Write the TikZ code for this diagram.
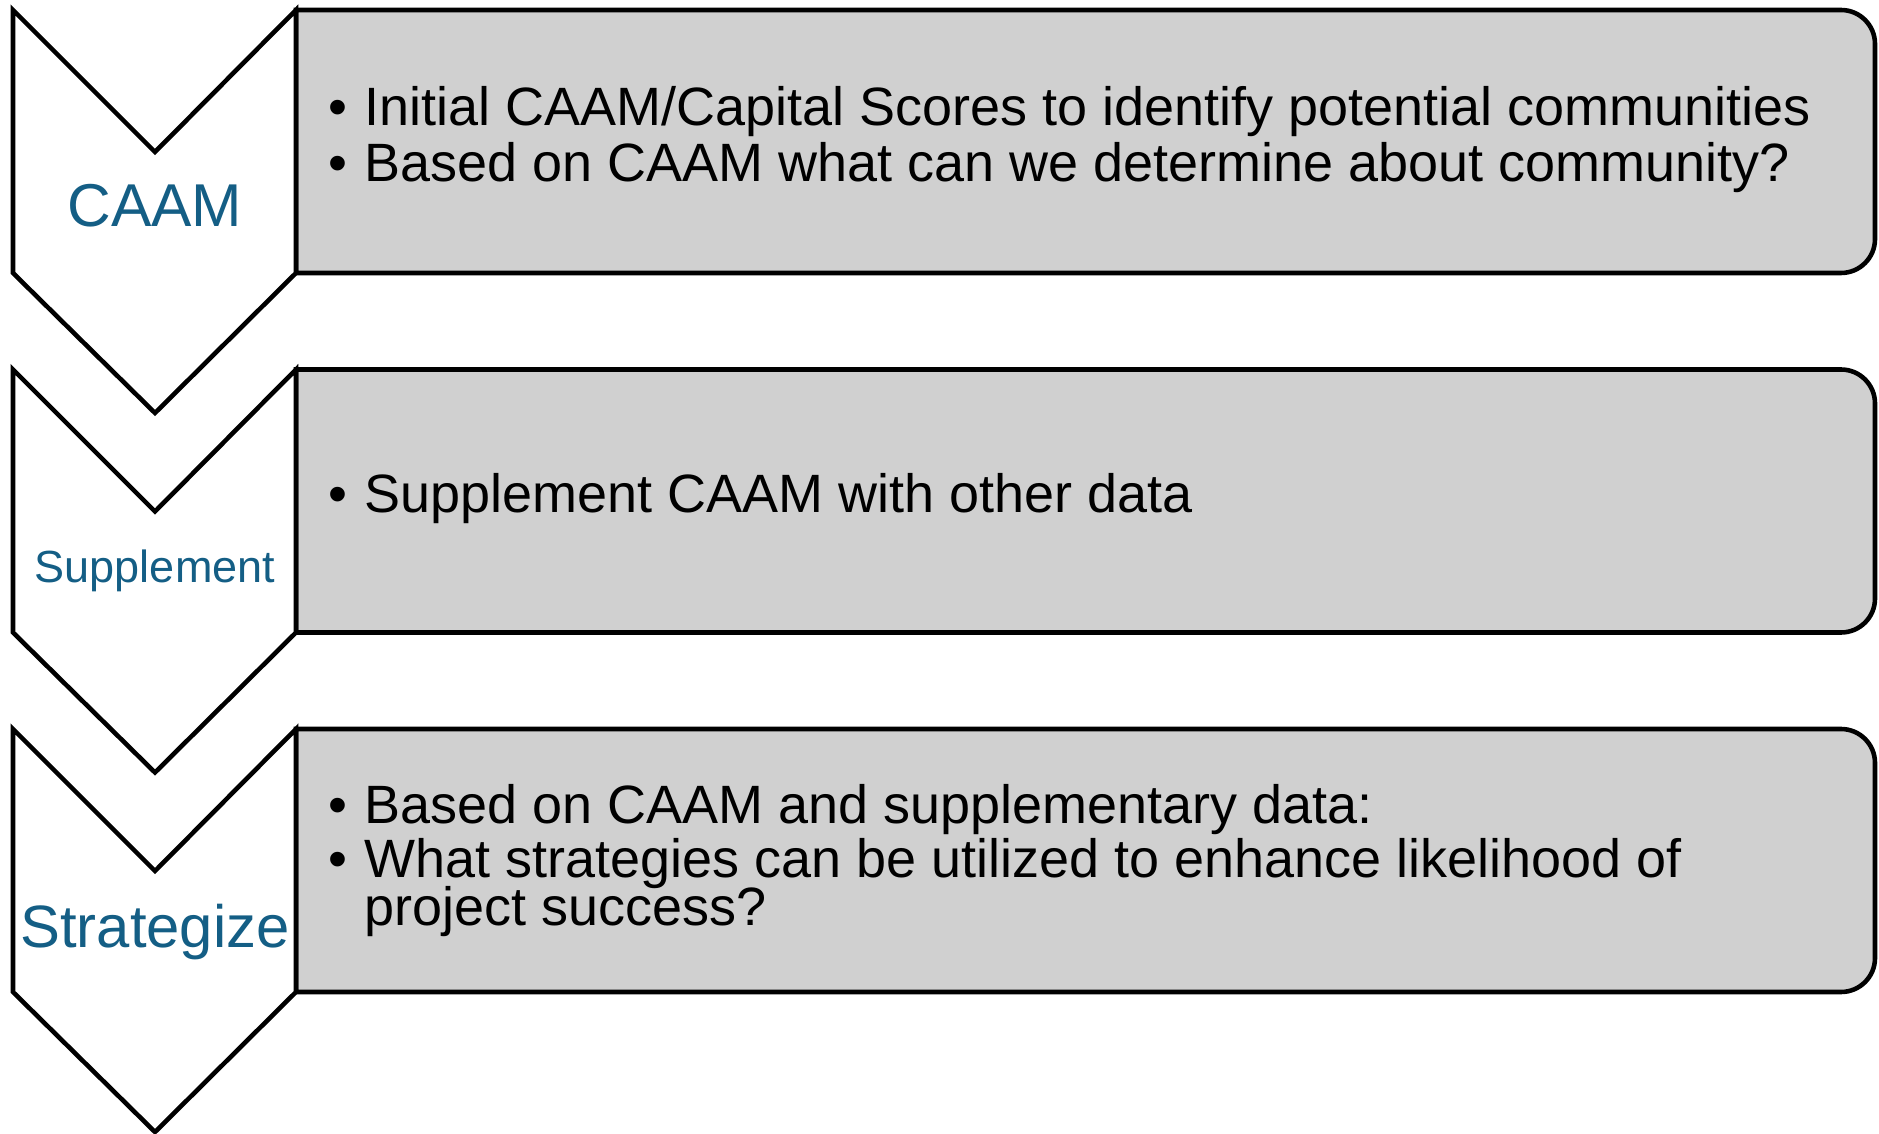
\documentclass[tikz,border=0pt]{standalone}
\usepackage{fontspec}
\setmainfont{Liberation Sans}
\usepackage{tikz}

\definecolor{caamblue}{RGB}{20,94,133}
\definecolor{panelgray}{RGB}{208,208,208}
\lineskiplimit=-20pt
\tikzset{
  chev/.style={draw=black,fill=white,line width=1.3pt},
  panel/.style={draw=black,fill=panelgray,line width=1.3pt},
  steplabel/.style={text=caamblue,inner sep=0pt,anchor=base},
  points/.style={anchor=base west,inner sep=0pt,align=left,
    font=\fontsize{15.35}{13.4}\selectfont}
}
\newcommand{\bul}{\makebox[0.36cm][l]{\textbullet}}

\begin{document}
\begin{tikzpicture}[x=0.01cm,y=-0.01cm]
   \useasboundingbox (0,0) rectangle (1879,1134);

   \draw[panel] (296,140) -- (296,10) [rounded corners=0.34cm] -- (1875,10) -- (1875,273) [sharp corners] -- (296,273) -- cycle;
   \draw[panel] (296,500) -- (296,369.5) [rounded corners=0.34cm] -- (1875,369.5) -- (1875,632.5) [sharp corners] -- (296,632.5) -- cycle;
   \draw[panel] (296,860) -- (296,729) [rounded corners=0.34cm] -- (1875,729) -- (1875,992) [sharp corners] -- (296,992) -- cycle;

   \draw[chev] (13,10) -- (155,152) -- (296,10) -- (296,273) -- (155,413) -- (13,273) -- cycle;
   \draw[chev] (13,369.5) -- (155,511.5) -- (296,369.5) -- (296,632.5) -- (155,772.5) -- (13,632.5) -- cycle;
   \draw[chev] (13,729) -- (155,871) -- (296,729) -- (296,992) -- (155,1132) -- (13,992) -- cycle;

   \node[steplabel,font=\fontsize{17.2}{20}\selectfont] (caam) at (155,227) {CAAM};
   \node[steplabel,font=\fontsize{12.8}{15}\selectfont] (supp) at (155,583) {Supplement};
   \node[steplabel,font=\fontsize{17}{20}\selectfont] (strat) at (155,947) {Strategize};

   \node[points] (caampts) at (328,182) {\bul Initial CAAM/Capital Scores to identify potential communities\\[2.8pt]
      \bul Based on CAAM what can we determine about community?};
   \node[points] (supppts) at (328,513) {\bul Supplement CAAM with other data};
   \node[points] (stratpts) at (328,925) {\bul Based on CAAM and supplementary data:\\[2.2pt]
      \bul What strategies can be utilized to enhance likelihood of\\
      \hspace*{0.36cm}project success?};
\end{tikzpicture}
\end{document}
